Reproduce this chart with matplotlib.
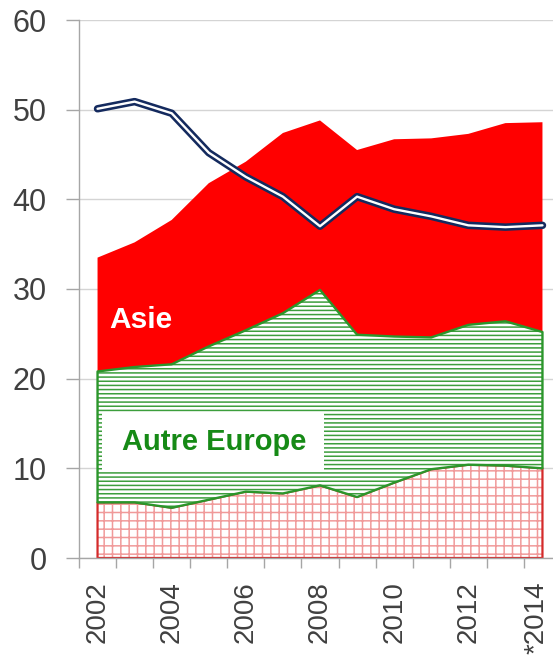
import matplotlib
matplotlib.use("Agg")
import matplotlib.pyplot as plt
from matplotlib.patches import Rectangle
from matplotlib.transforms import ScaledTranslation
import numpy as np

# ---- data ----
years = [2002, 2003, 2004, 2005, 2006, 2007, 2008, 2009, 2010, 2011, 2012, 2013, 2014]
year_labels = ["2002", "", "2004", "", "2006", "", "2008", "", "2010", "", "2012", "", "*2014"]
base_top = [6.2, 6.2, 5.6, 6.5, 7.4, 7.2, 8.1, 6.8, 8.4, 9.9, 10.4, 10.3, 10.0]          # dotted red (cumulative top)
europe_top = [20.8, 21.3, 21.6, 23.6, 25.4, 27.3, 29.9, 24.9, 24.7, 24.6, 26.0, 26.4, 25.2]  # Autre Europe (cumulative top)
asie_top = [33.5, 35.2, 37.7, 41.8, 44.2, 47.4, 48.8, 45.5, 46.7, 46.8, 47.3, 48.5, 48.6]    # Asie (cumulative top)
line_vals = [50.1, 50.9, 49.6, 45.2, 42.5, 40.3, 37.0, 40.3, 38.9, 38.1, 37.1, 36.9, 37.1]
yticks = [0, 10, 20, 30, 40, 50, 60]

plt.rcParams['hatch.linewidth'] = 1.1

fig = plt.figure(figsize=(5.53, 6.58), dpi=100)
ax = fig.add_axes([79/553, 100/658, 482/553, 538/658])

x = np.arange(len(years))
zero = np.zeros(len(years))

# gridlines
ax.set_axisbelow(True)
ax.yaxis.grid(True, color="#d4d4d4", lw=1.0, zorder=0)

# Asie solid red
ax.fill_between(x, europe_top, asie_top, facecolor="#ff0000", edgecolor="none", lw=0, zorder=1)

# bottom dotted-red area
ax.fill_between(x, zero, base_top, facecolor="white", edgecolor="#f09a9a", hatch="++", lw=0, zorder=1.2)
ax.fill_between(x, zero, base_top, facecolor="none", edgecolor="#d42a2a", lw=1.6, zorder=1.4)

# Autre Europe hatched green
ax.fill_between(x, base_top, europe_top, facecolor="white", edgecolor="#3c9e3c", hatch="----", lw=0, zorder=1.5)
ax.fill_between(x, base_top, europe_top, facecolor="none", edgecolor="#2b962b", lw=1.7, zorder=1.6)

# line (double line effect)
ax.plot(x, line_vals, color="#142a5e", lw=5.4, solid_capstyle="round", solid_joinstyle="round", zorder=3)
ax.plot(x, line_vals, color="white", lw=1.7, solid_capstyle="round", solid_joinstyle="round", zorder=3.1)

# labels
ax.text(1.17, 26.5, "Asie", color="white", fontsize=21.5, fontweight="bold",
        family="Liberation Sans", ha="center", va="center", zorder=4)
ax.add_patch(Rectangle((0.13, 9.6), 5.97, 6.6, facecolor="white", edgecolor="none", zorder=3.5))
ax.text(3.14, 12.9, "Autre Europe", color="#168a16", fontsize=21, fontweight="bold",
        family="Liberation Sans", ha="center", va="center", zorder=4)

# axes styling
ax.set_xlim(-0.5, len(years) - 0.5)
ax.set_ylim(0, 60)
ax.set_yticks(yticks)
ax.set_yticklabels([str(v) for v in yticks], fontsize=22, color="#404040", family="Liberation Sans")
ax.tick_params(axis="y", length=9.4, width=1, color="#a6a6a6", pad=14)

ax.set_xticks(np.arange(-0.5, len(years), 1.0))
ax.set_xticklabels([])
ax.tick_params(axis="x", which="major", length=7, width=1, color="#a6a6a6")
ax.set_xticks(x, minor=True)
ax.set_xticklabels(year_labels, minor=True, rotation=90, fontsize=20, color="#404040",
                   family="Liberation Sans")
ax.tick_params(axis="x", which="minor", length=0, pad=17)

# keep the last label inside the figure
last = ax.xaxis.get_minor_ticks()[-1].label1
last.set_transform(last.get_transform() + ScaledTranslation(-6/100, 0, fig.dpi_scale_trans))

for s in ["top", "right"]:
    ax.spines[s].set_visible(False)
for s in ["left", "bottom"]:
    ax.spines[s].set_color("#a6a6a6")
    ax.spines[s].set_linewidth(1.0)

fig.savefig("out.png", dpi=100)
